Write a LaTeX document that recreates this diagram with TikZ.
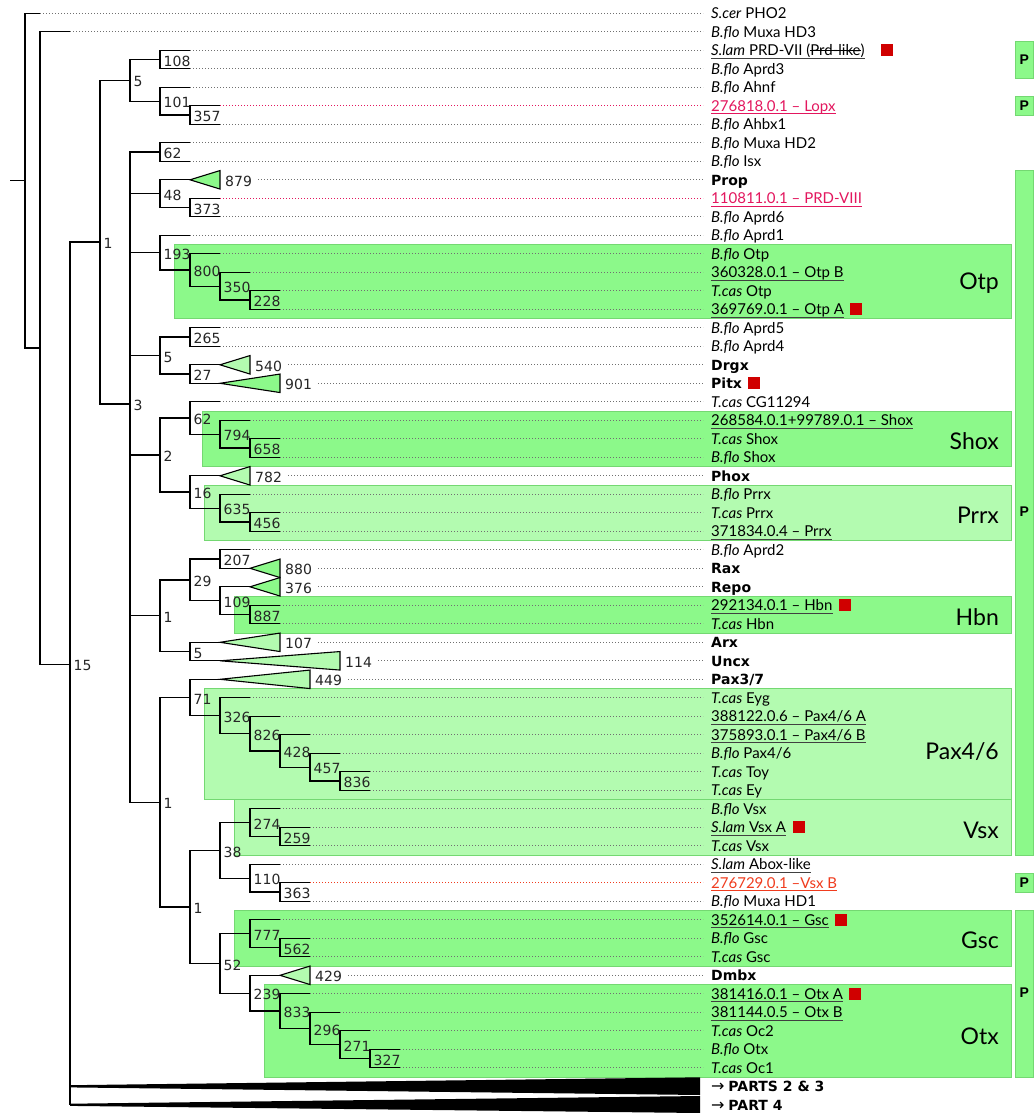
\documentclass[tikz,border=0pt]{standalone}
\usepackage{fontspec}
\setmainfont{Lato}
\newfontfamily\numfont{DejaVu Sans}
\newfontfamily\pfont{Liberation Sans}
\usetikzlibrary{calc}
\newsavebox\mystkbox
\newcommand\mystrike[1]{\sbox\mystkbox{#1}\rlap{\usebox\mystkbox}\rule[0.28em]{\wd\mystkbox}{0.075em}}
\newcommand\bl[1]{{\numfont\bfseries\fontsize{14}{14}\selectfont #1}}
\newcommand\myarrow{{\numfont\fontsize{16}{16}\selectfont →}}
\definecolor{gB}{HTML}{8CF98A}
\definecolor{gL}{HTML}{B3FBB0}
\definecolor{gE}{HTML}{74D872}
\definecolor{pinkc}{HTML}{E3165E}
\definecolor{orc}{HTML}{F03C1E}
\definecolor{sqc}{HTML}{D00000}
\definecolor{dotc}{HTML}{707070}
\begin{document}
\begin{tikzpicture}[x=1pt,y=-1pt,
  br/.style={line width=1.35pt, black},
  dotl/.style={dotc, line width=0.9pt, dash pattern=on 0.9pt off 2.1pt},
  tri/.style={line width=1.1pt, black, line join=miter},
  num/.style={anchor=west, inner sep=0pt, font=\numfont\fontsize{14}{14}\selectfont, text=black!85},
  lbl/.style={anchor=base west, inner sep=0pt, yshift=-5.4pt, font=\fontsize{15}{15}\selectfont},
  ul/.style={line width=0.8pt, black!75},
  sqr/.style={fill=sqc, minimum size=12pt, inner sep=0pt, anchor=west},
  box/.style={draw=gE, line width=0.6pt},
  big/.style={anchor=base east, inner sep=0pt, yshift=-8.2pt, font=\fontsize{23}{23}\selectfont},
  pbox/.style={fill=gB, draw=gE, line width=0.6pt},
  plab/.style={inner sep=0pt, font=\pfont\bfseries\fontsize{14}{14}\selectfont}]
\useasboundingbox (0,0) rectangle (1034,1113);
\fill[white] (0,0) rectangle (1034,1113);

% ---------- clade boxes ----------
\filldraw[box, fill=gB] (174,244.55) rectangle (1011,318.55);
\filldraw[box, fill=gB] (202,411.05) rectangle (1011,466.55);
\filldraw[box, fill=gL] (204,485.05) rectangle (1011,540.55);
\filldraw[box, fill=gB] (234,596.05) rectangle (1011,633.05);
\filldraw[box, fill=gL] (204,688.55) rectangle (1011,799.55);
\filldraw[box, fill=gL] (234,799.55) rectangle (1011,855.05);
\filldraw[box, fill=gB] (234,910.55) rectangle (1011,966.05);
\filldraw[box, fill=gB] (264,984.55) rectangle (1011,1077.05);

\node[big] (Lotp) at (999,281.7) {Otp};
\node[big] (Lshox) at (999,441.7) {Shox};
\node[big] (Lprrx) at (999,515) {Prrx};
\node[big] (Lhbn) at (999,617.7) {Hbn};
\node[big] (Lpax) at (999,751.7) {Pax4/6};
\node[big] (Lvsx) at (999,830.7) {Vsx};
\node[big] (Lgsc) at (999,940.7) {Gsc};
\node[big] (Lotx) at (999,1036.7) {Otx};

% ---------- P column ----------
\filldraw[pbox] (1015,41.05) rectangle (1033.5,78.05);
\filldraw[pbox] (1015,96.55) rectangle (1033.5,115.05);
\filldraw[pbox] (1015,170.55) rectangle (1033.5,855.05);
\filldraw[pbox] (1015,873.55) rectangle (1033.5,892.05);
\filldraw[pbox] (1015,910.55) rectangle (1033.5,1077.05);
\node[plab] (P1) at (1024.2,60) {P};
\node[plab] (P2) at (1024.2,105.8) {P};
\node[plab] (P3) at (1024.2,512) {P};
\node[plab] (P4) at (1024.2,882.8) {P};
\node[plab] (P5) at (1024.2,992.5) {P};

% ---------- internal nodes ----------
\coordinate (rs) at (10,180.65);
\coordinate (rt) at (25,180.65);
\coordinate (A) at (40,348);
\coordinate (B) at (70,664.2);
\coordinate (C) at (100,242.1);
\coordinate (D) at (130,80.36);
\coordinate (E) at (130,403.83);
\coordinate (n108) at (160,59.55);
\coordinate (n101) at (160,101.18);
\coordinate (n357) at (190,115.05);
\coordinate (n62a) at (160,152.05);
\coordinate (n48) at (160,193.68);
\coordinate (n373) at (190,207.55);
\coordinate (n193) at (160,252.65);
\coordinate (n800) at (190,269.99);
\coordinate (n350) at (220,286.18);
\coordinate (n228) at (250,300.05);
\coordinate (n5b) at (160,355.55);
\coordinate (n265) at (190,337.05);
\coordinate (n27) at (190,374.05);
\coordinate (n2) at (160,454.99);
\coordinate (n62b) at (190,417.99);
\coordinate (n794) at (220,434.18);
\coordinate (n658) at (250,448.05);
\coordinate (n16) at (190,491.99);
\coordinate (n635) at (220,508.18);
\coordinate (n456) at (250,522.05);
\coordinate (n1a) at (160,615.7);
\coordinate (n29) at (190,579.86);
\coordinate (n207) at (220,559.05);
\coordinate (n109) at (220,600.68);
\coordinate (n887) at (250,614.55);
\coordinate (n5c) at (190,651.55);
\coordinate (n1b) at (160,802.22);
\coordinate (n71) at (190,697.51);
\coordinate (n326) at (220,715.72);
\coordinate (n826) at (250,733.65);
\coordinate (n428) at (280,750.99);
\coordinate (n457) at (310,767.18);
\coordinate (n836) at (340,781.05);
\coordinate (n1c) at (190,906.94);
\coordinate (n38) at (220,850.43);
\coordinate (n274) at (250,822.68);
\coordinate (n259) at (280,836.55);
\coordinate (n110) at (250,878.18);
\coordinate (n363) at (280,892.05);
\coordinate (n52) at (220,963.45);
\coordinate (n777) at (250,933.68);
\coordinate (n562) at (280,947.55);
\coordinate (n239) at (250,993.22);
\coordinate (n833) at (280,1011.15);
\coordinate (n296) at (310,1028.49);
\coordinate (n271) at (340,1044.68);
\coordinate (n327) at (370,1058.55);

% ---------- leaf ends ----------
\coordinate (l0) at (40,13.3);
\coordinate (l1) at (70,31.8);
\coordinate (l2) at (190,50.3);
\coordinate (l3) at (190,68.8);
\coordinate (l4) at (190,87.3);
\coordinate (l5) at (220,105.8);
\coordinate (l6) at (220,124.3);
\coordinate (l7) at (190,142.8);
\coordinate (l8) at (190,161.3);
\coordinate (l9) at (190,179.8);
\coordinate (l10) at (220,198.3);
\coordinate (l11) at (220,216.8);
\coordinate (l12) at (190,235.3);
\coordinate (l13) at (220,253.8);
\coordinate (l14) at (250,272.3);
\coordinate (l15) at (280,290.8);
\coordinate (l16) at (280,309.3);
\coordinate (l17) at (220,327.8);
\coordinate (l18) at (220,346.3);
\coordinate (l19) at (220,364.8);
\coordinate (l20) at (220,383.3);
\coordinate (l21) at (220,401.8);
\coordinate (l22) at (250,420.3);
\coordinate (l23) at (280,438.8);
\coordinate (l24) at (280,457.3);
\coordinate (l25) at (220,475.8);
\coordinate (l26) at (250,494.3);
\coordinate (l27) at (280,512.8);
\coordinate (l28) at (280,531.3);
\coordinate (l29) at (250,549.8);
\coordinate (l30) at (250,568.3);
\coordinate (l31) at (250,586.8);
\coordinate (l32) at (280,605.3);
\coordinate (l33) at (280,623.8);
\coordinate (l34) at (220,642.3);
\coordinate (l35) at (220,660.8);
\coordinate (l36) at (220,679.3);
\coordinate (l37) at (250,697.8);
\coordinate (l38) at (280,716.3);
\coordinate (l39) at (310,734.8);
\coordinate (l40) at (340,753.3);
\coordinate (l41) at (370,771.8);
\coordinate (l42) at (370,790.3);
\coordinate (l43) at (280,808.8);
\coordinate (l44) at (310,827.3);
\coordinate (l45) at (310,845.8);
\coordinate (l46) at (280,864.3);
\coordinate (l47) at (310,882.8);
\coordinate (l48) at (310,901.3);
\coordinate (l49) at (280,919.8);
\coordinate (l50) at (310,938.3);
\coordinate (l51) at (310,956.8);
\coordinate (l52) at (280,975.3);
\coordinate (l53) at (310,993.8);
\coordinate (l54) at (340,1012.3);
\coordinate (l55) at (370,1030.8);
\coordinate (l56) at (400,1049.3);
\coordinate (l57) at (400,1067.8);
\coordinate (w1) at (70,1086.3);
\coordinate (w2) at (70,1104.8);

% ---------- leaf labels ----------
\node[lbl] (t0) at (711,13.3) {\textit{S.cer} PHO2};
\node[lbl] (t1) at (711,31.8) {\textit{B.flo} Muxa HD3};
\node[lbl] (t2) at (711,50.3) {\textit{S.lam} PRD-VII (\mystrike{Prd-like})};
\node[lbl] (t3) at (711,68.8) {\textit{B.flo} Aprd3};
\node[lbl] (t4) at (711,87.3) {\textit{B.flo} Ahnf};
\node[lbl, text=pinkc] (t5) at (711,105.8) {276818.0.1 – Lopx};
\node[lbl] (t6) at (711,124.3) {\textit{B.flo} Ahbx1};
\node[lbl] (t7) at (711,142.8) {\textit{B.flo} Muxa HD2};
\node[lbl] (t8) at (711,161.3) {\textit{B.flo} Isx};
\node[lbl] (t9) at (711,179.8) {\bl{Prop}};
\node[lbl, text=pinkc] (t10) at (711,198.3) {110811.0.1 – PRD-VIII};
\node[lbl] (t11) at (711,216.8) {\textit{B.flo} Aprd6};
\node[lbl] (t12) at (711,235.3) {\textit{B.flo} Aprd1};
\node[lbl] (t13) at (711,253.8) {\textit{B.flo} Otp};
\node[lbl] (t14) at (711,272.3) {360328.0.1 – Otp B};
\node[lbl] (t15) at (711,290.8) {\textit{T.cas} Otp};
\node[lbl] (t16) at (711,309.3) {369769.0.1 – Otp A};
\node[lbl] (t17) at (711,327.8) {\textit{B.flo} Aprd5};
\node[lbl] (t18) at (711,346.3) {\textit{B.flo} Aprd4};
\node[lbl] (t19) at (711,364.8) {\bl{Drgx}};
\node[lbl] (t20) at (711,383.3) {\bl{Pitx}};
\node[lbl] (t21) at (711,401.8) {\textit{T.cas} CG11294};
\node[lbl] (t22) at (711,420.3) {268584.0.1+99789.0.1 – Shox};
\node[lbl] (t23) at (711,438.8) {\textit{T.cas} Shox};
\node[lbl] (t24) at (711,457.3) {\textit{B.flo} Shox};
\node[lbl] (t25) at (711,475.8) {\bl{Phox}};
\node[lbl] (t26) at (711,494.3) {\textit{B.flo} Prrx};
\node[lbl] (t27) at (711,512.8) {\textit{T.cas} Prrx};
\node[lbl] (t28) at (711,531.3) {371834.0.4 – Prrx};
\node[lbl] (t29) at (711,549.8) {\textit{B.flo} Aprd2};
\node[lbl] (t30) at (711,568.3) {\bl{Rax}};
\node[lbl] (t31) at (711,586.8) {\bl{Repo}};
\node[lbl] (t32) at (711,605.3) {292134.0.1 – Hbn};
\node[lbl] (t33) at (711,623.8) {\textit{T.cas} Hbn};
\node[lbl] (t34) at (711,642.3) {\bl{Arx}};
\node[lbl] (t35) at (711,660.8) {\bl{Uncx}};
\node[lbl] (t36) at (711,679.3) {\bl{Pax3/7}};
\node[lbl] (t37) at (711,697.8) {\textit{T.cas} Eyg};
\node[lbl] (t38) at (711,716.3) {388122.0.6 – Pax4/6 A};
\node[lbl] (t39) at (711,734.8) {375893.0.1 – Pax4/6 B};
\node[lbl] (t40) at (711,753.3) {\textit{B.flo} Pax4/6};
\node[lbl] (t41) at (711,771.8) {\textit{T.cas} Toy};
\node[lbl] (t42) at (711,790.3) {\textit{T.cas} Ey};
\node[lbl] (t43) at (711,808.8) {\textit{B.flo} Vsx};
\node[lbl] (t44) at (711,827.3) {\textit{S.lam} Vsx A};
\node[lbl] (t45) at (711,845.8) {\textit{T.cas} Vsx};
\node[lbl] (t46) at (711,864.3) {\textit{S.lam} Abox-like};
\node[lbl, text=orc] (t47) at (711,882.8) {276729.0.1 –Vsx B};
\node[lbl] (t48) at (711,901.3) {\textit{B.flo} Muxa HD1};
\node[lbl] (t49) at (711,919.8) {352614.0.1 – Gsc\hspace{3pt}};
\node[lbl] (t50) at (711,938.3) {\textit{B.flo} Gsc};
\node[lbl] (t51) at (711,956.8) {\textit{T.cas} Gsc};
\node[lbl] (t52) at (711,975.3) {\bl{Dmbx}};
\node[lbl] (t53) at (711,993.8) {381416.0.1 – Otx A};
\node[lbl] (t54) at (711,1012.3) {381144.0.5 – Otx B};
\node[lbl] (t55) at (711,1030.8) {\textit{T.cas} Oc2};
\node[lbl] (t56) at (711,1049.3) {\textit{B.flo} Otx};
\node[lbl] (t57) at (711,1067.8) {\textit{T.cas} Oc1};
\node[lbl] (t58) at (711,1086.3) {\myarrow\ \bl{PARTS 2 \& 3}};
\node[lbl] (t59) at (711,1104.8) {\myarrow\ \bl{PART 4}};

% underlines
\foreach \q in {2,14,16,22,28,32,38,39,44,46,49,53,54}
  \draw[ul] ([yshift=-2.6pt]t\q.base west) -- ([yshift=-2.6pt]t\q.base east);
\draw[ul, pinkc] ([yshift=-2.6pt]t5.base west) -- ([yshift=-2.6pt]t5.base east);
\draw[ul, pinkc] ([yshift=-2.6pt]t10.base west) -- ([yshift=-2.6pt]t10.base east);
\draw[ul, orc] ([yshift=-2.6pt]t47.base west) -- ([yshift=-2.6pt]t47.base east);

% red squares
\node[sqr, xshift=16pt] (s2) at (t2.east |- l2) {};
\foreach \q in {16,20,32,44,49,53}
  \node[sqr, xshift=6pt] (s\q) at (t\q.east |- l\q) {};

% ---------- collapsed clades ----------
\filldraw[tri, fill=gB] (l9) -- ++(30,-9.25) -- ++(0,18.5) -- cycle;
\filldraw[tri, fill=gL] (l19) -- ++(30,-9.25) -- ++(0,18.5) -- cycle;
\filldraw[tri, fill=gB] (l20) -- ++(60,-9.25) -- ++(0,18.5) -- cycle;
\filldraw[tri, fill=gL] (l25) -- ++(30,-9.25) -- ++(0,18.5) -- cycle;
\filldraw[tri, fill=gB] (l30) -- ++(30,-9.25) -- ++(0,18.5) -- cycle;
\filldraw[tri, fill=gB] (l31) -- ++(30,-9.25) -- ++(0,18.5) -- cycle;
\filldraw[tri, fill=gL] (l34) -- ++(60,-9.25) -- ++(0,18.5) -- cycle;
\filldraw[tri, fill=gL] (l35) -- ++(120,-9.25) -- ++(0,18.5) -- cycle;
\filldraw[tri, fill=gL] (l36) -- ++(90,-9.25) -- ++(0,18.5) -- cycle;
\filldraw[tri, fill=gL] (l52) -- ++(30,-9.25) -- ++(0,18.5) -- cycle;
\node[num] (c9) at (225,181.3) {879};
\node[num] (c19) at (255,366.3) {540};
\node[num] (c20) at (285,384.8) {901};
\node[num] (c25) at (255,477.3) {782};
\node[num] (c30) at (285,569.8) {880};
\node[num] (c31) at (285,588.3) {376};
\node[num] (c34) at (285,643.8) {107};
\node[num] (c35) at (345,662.3) {114};
\node[num] (c36) at (315,680.8) {449};
\node[num] (c52) at (315,976.8) {429};

% wedges
\fill[black] (70,1085.2) -- (700,1077.3) -- (700,1095) -- (70,1087.4) -- cycle;
\fill[black] (70,1103.7) -- (700,1096) -- (700,1113) -- (70,1105.9) -- cycle;

% ---------- dotted leaders ----------
\foreach \q in {0,1,2,3,4,6,7,8,11,12,13,14,15,16,17,18,21,22,23,24,26,27,28,29,32,33,37,38,39,40,41,42,43,44,45,46,48,49,50,51,53,54,55,56,57}
  \draw[dotl] (l\q) -- ([xshift=-8pt]l\q -| t\q.west);
\draw[dotl, pinkc] (l5) -- ([xshift=-8pt]l5 -| t5.west);
\draw[dotl, pinkc] (l10) -- ([xshift=-8pt]l10 -| t10.west);
\draw[dotl, orc] (l47) -- ([xshift=-8pt]l47 -| t47.west);
\foreach \q in {9,19,20,25,30,31,34,35,36,52}
  \draw[dotl] ([xshift=6pt]c\q.east |- l\q) -- ([xshift=-8pt]l\q -| t\q.west);

% ---------- branches ----------
\draw[br] (rs) -- (rt);
\foreach \p/\q in {rt/l0, rt/A, A/l1, A/B, B/C, B/w1, B/w2, C/D, C/E,
  D/n108, D/n101, n108/l2, n108/l3, n101/l4, n101/n357, n357/l5, n357/l6,
  E/n62a, E/n48, E/n193, E/n5b, E/n2, E/n1a, E/n1b,
  n62a/l7, n62a/l8, n48/l9, n48/n373, n373/l10, n373/l11,
  n193/l12, n193/n800, n800/l13, n800/n350, n350/l14, n350/n228, n228/l15, n228/l16,
  n5b/n265, n5b/n27, n265/l17, n265/l18, n27/l19, n27/l20,
  n2/n62b, n2/n16, n62b/l21, n62b/n794, n794/l22, n794/n658, n658/l23, n658/l24,
  n16/l25, n16/n635, n635/l26, n635/n456, n456/l27, n456/l28,
  n1a/n29, n1a/n5c, n29/n207, n29/n109, n207/l29, n207/l30, n109/l31, n109/n887, n887/l32, n887/l33,
  n5c/l34, n5c/l35,
  n1b/n71, n1b/n1c, n71/l36, n71/n326, n326/l37, n326/n826, n826/l38, n826/n428, n428/l39, n428/n457, n457/l40, n457/n836, n836/l41, n836/l42,
  n1c/n38, n1c/n52, n38/n274, n38/n110, n274/l43, n274/n259, n259/l44, n259/l45, n110/l46, n110/n363, n363/l47, n363/l48,
  n52/n777, n52/n239, n777/l49, n777/n562, n562/l50, n562/l51, n239/l52, n239/n833, n833/l53, n833/n296, n296/l54, n296/n271, n271/l55, n271/n327, n327/l56, n327/l57}
  \draw[br] (\p) |- (\q);

% ---------- support values ----------
\foreach \p/\q in {B/15, C/1, D/5, E/3, n108/108, n101/101, n357/357, n62a/62, n48/48, n373/373,
  n193/193, n800/800, n350/350, n228/228, n5b/5, n265/265, n27/27, n2/2, n62b/62, n794/794, n658/658,
  n16/16, n635/635, n456/456, n1a/1, n29/29, n207/207, n109/109, n887/887, n5c/5,
  n1b/1, n71/71, n326/326, n826/826, n428/428, n457/457, n836/836, n1c/1, n38/38, n274/274, n259/259,
  n110/110, n363/363, n52/52, n777/777, n562/562, n239/239, n833/833, n296/296, n271/271, n327/327}
  \node[num] (v-\p) at ([xshift=3.5pt,yshift=-1.5pt]\p) {\q};
\end{tikzpicture}
\end{document}
